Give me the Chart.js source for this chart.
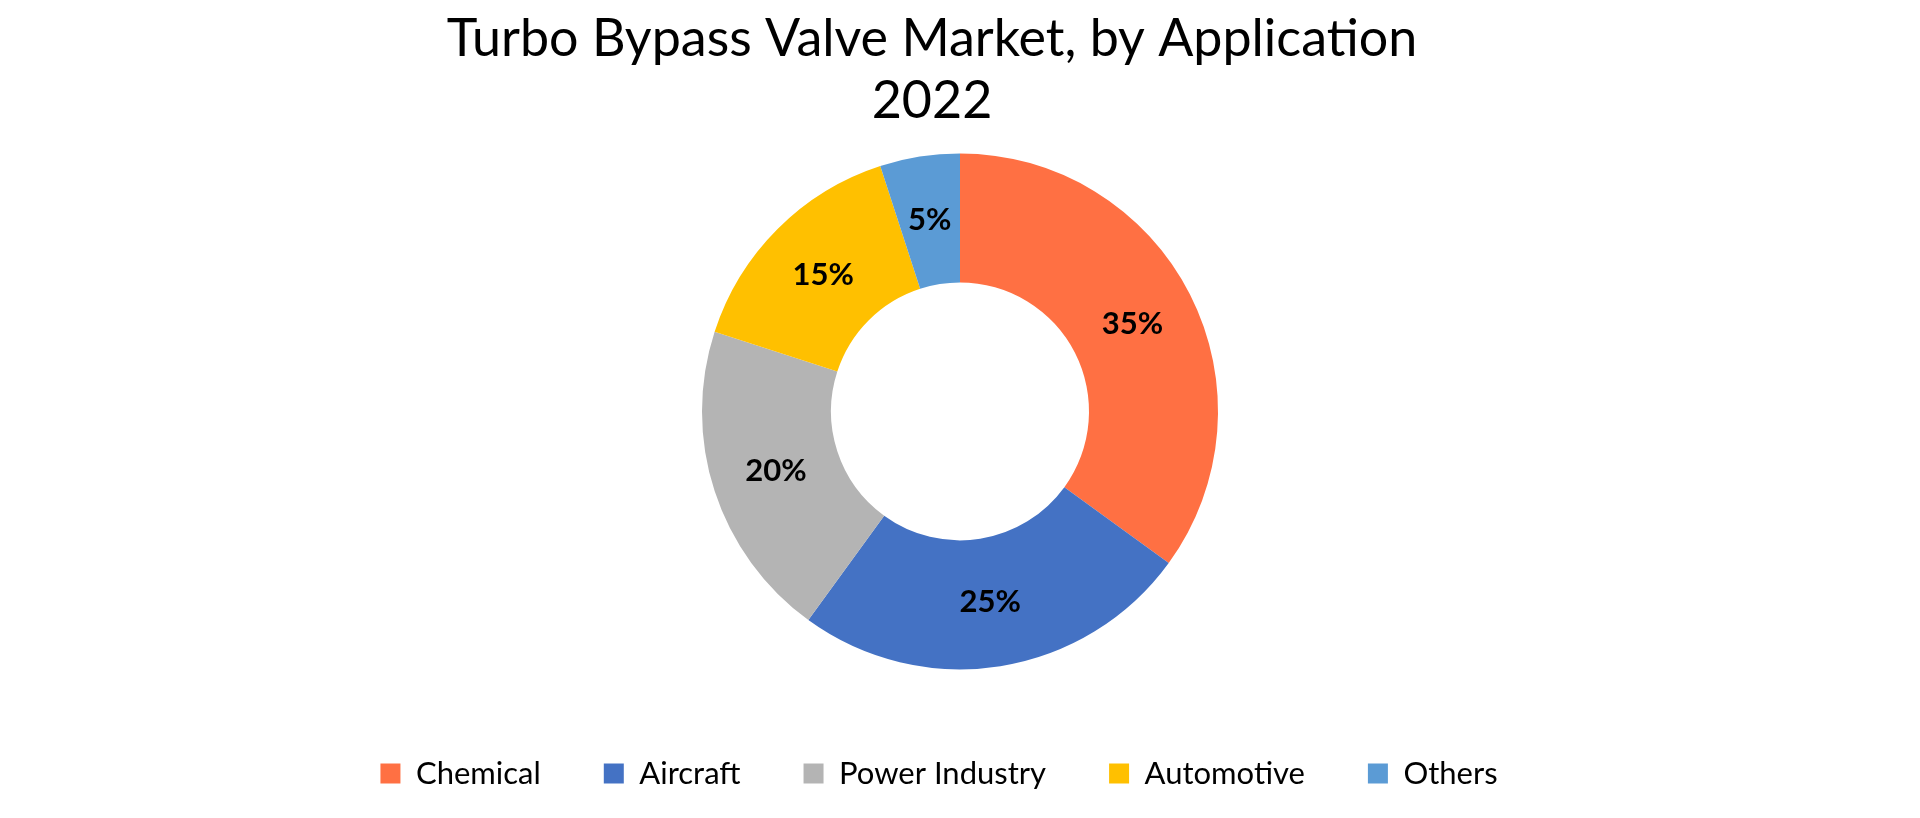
<!DOCTYPE html>
<html>
<head>
<meta charset="utf-8">
<title>Turbo Bypass Valve Market, by Application 2022</title>
<script src="https://cdn.jsdelivr.net/npm/chart.js@4.4.1/dist/chart.umd.min.js"></script>
<style>
  html, body { margin: 0; padding: 0; background: #ffffff; }
  #wrap { width: 1920px; height: 818px; }
</style>
</head>
<body>
<div id="wrap"><canvas id="chart" width="1920" height="818"></canvas></div>
<script>
// Share of market by application, 2022 (%)
const applications = ["Chemical", "Aircraft", "Power Industry", "Automotive", "Others"];
const shares       = [35, 25, 20, 15, 5];
const sliceColors  = ["#FF7043", "#4472C4", "#B4B4B4", "#FFC000", "#5B9BD5"];
const titleLines   = ["Turbo Bypass Valve Market, by Application", "2022"];

// Percent labels drawn at each slice's centroid
const sliceLabels = {
  id: "sliceLabels",
  afterDatasetsDraw(chart) {
    const { ctx } = chart;
    const meta = chart.getDatasetMeta(0);
    ctx.save();
    ctx.font = "bold 31px Lato";
    ctx.fillStyle = "#000000";
    ctx.textAlign = "center";
    ctx.textBaseline = "middle";
    meta.data.forEach((arc, i) => {
      const p = arc.tooltipPosition();
      ctx.fillText(shares[i] + "%", p.x, p.y);
    });
    ctx.restore();
  }
};

// The source centres title and legend a little left of the donut
const nudgeBoxes = {
  id: "nudgeBoxes",
  afterLayout(chart) {
    const t = chart.titleBlock, l = chart.legend;
    if (t) { t.left -= 28; t.right -= 28; }
    if (l) { l.left -= 21; l.right -= 21; }
  }
};

new Chart(document.getElementById("chart"), {
  type: "doughnut",
  data: {
    labels: applications,
    datasets: [{
      data: shares,
      backgroundColor: sliceColors,
      borderWidth: 0,
      radius: 258,
      cutout: "50%"
    }]
  },
  options: {
    responsive: false,
    animation: false,
    devicePixelRatio: 1,
    layout: { padding: { top: 0, bottom: 19, left: 0, right: 0 } },
    plugins: {
      title: {
        display: true,
        text: titleLines,
        color: "#000000",
        font: { family: "Lato", size: 52, weight: "normal", lineHeight: 1.19 },
        padding: { top: 8, bottom: -4 }
      },
      legend: {
        position: "bottom",
        labels: {
          color: "#000000",
          font: { family: "Lato", size: 31 },
          boxWidth: 20,
          boxHeight: 20,
          padding: 63
        }
      },
      tooltip: { enabled: false }
    }
  },
  plugins: [sliceLabels, nudgeBoxes]
});
</script>
</body>
</html>
